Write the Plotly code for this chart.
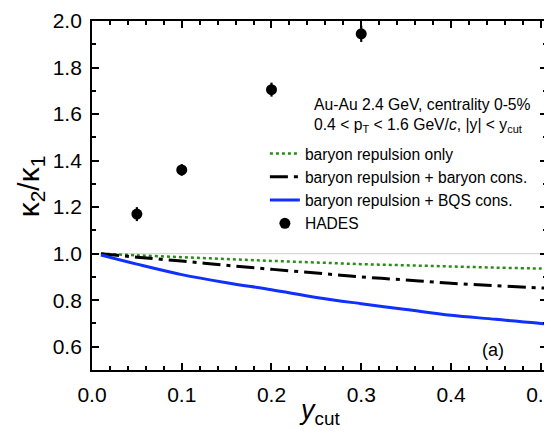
import plotly.graph_objects as go

# Data
ycut = [0.01, 0.05, 0.1, 0.15, 0.2, 0.25, 0.3, 0.35, 0.4, 0.45, 0.5, 0.51]
rep_only = [1.0, 0.993, 0.985, 0.977, 0.969, 0.962, 0.955, 0.950, 0.945, 0.940, 0.936, 0.935]
rep_bcons = [1.0, 0.985, 0.968, 0.950, 0.933, 0.917, 0.900, 0.887, 0.873, 0.862, 0.853, 0.851]
rep_bqs = [0.994, 0.955, 0.910, 0.875, 0.845, 0.812, 0.785, 0.760, 0.735, 0.718, 0.700, 0.698]

hades_x = [0.05, 0.1, 0.2, 0.3]
hades_y = [1.17, 1.36, 1.705, 1.945]
hades_err = [0.03, 0.025, 0.03, 0.035]

x_ticks = [0, 0.1, 0.2, 0.3, 0.4, 0.5]
x_ticklabels = ["0.0", "0.1", "0.2", "0.3", "0.4", "0.5"]
y_ticks = [0.6, 0.8, 1.0, 1.2, 1.4, 1.6, 1.8, 2.0]
y_ticklabels = ["0.6", "0.8", "1.0", "1.2", "1.4", "1.6", "1.8", "2.0"]

FONT = "Liberation Sans"

fig = go.Figure()

# reference line at 1
fig.add_trace(go.Scatter(x=[0, 0.51], y=[1.0, 1.0], mode="lines",
                         line=dict(color="#d8d8d8", width=1.2),
                         showlegend=False, hoverinfo="skip"))

fig.add_trace(go.Scatter(x=ycut, y=rep_only, mode="lines", name="baryon repulsion only",
                         line=dict(color="#2a8a1a", width=2.5, dash="dot", shape="spline")))
fig.add_trace(go.Scatter(x=ycut, y=rep_bcons, mode="lines", name="baryon repulsion + baryon cons.",
                         line=dict(color="black", width=3, dash="18px,6px,4px,6px", shape="spline")))
fig.add_trace(go.Scatter(x=ycut, y=rep_bqs, mode="lines", name="baryon repulsion + BQS cons.",
                         line=dict(color="#1030ff", width=3, shape="spline")))
fig.add_trace(go.Scatter(x=hades_x, y=hades_y, mode="markers", name="HADES",
                         marker=dict(color="black", size=11),
                         error_y=dict(type="data", array=hades_err, color="black",
                                      thickness=2.2, width=0)))

axis_common = dict(showline=True, linecolor="black", linewidth=1.8, mirror="ticks",
                   ticks="inside", tickcolor="black", tickwidth=1.5, ticklen=7,
                   showgrid=False, zeroline=False, automargin=False,
                   ticklabeloverflow="allow",
                   tickfont=dict(family=FONT, size=21, color="black"))

fig.update_xaxes(range=[0, 0.507], tickvals=x_ticks, ticktext=x_ticklabels,
                 minor=dict(dtick=0.02, ticks="inside", ticklen=4, tickcolor="black", tickwidth=1.5),
                 ticklabelstandoff=5,
                 **axis_common)
fig.update_yaxes(range=[0.5, 2.0], tickvals=y_ticks, ticktext=y_ticklabels,
                 minor=dict(dtick=0.1, ticks="inside", ticklen=4, tickcolor="black", tickwidth=1.5),
                 ticklabelstandoff=4,
                 **axis_common)

# axis titles
fig.add_annotation(xref="paper", yref="paper", x=0.5, y=-0.065, xanchor="center", yanchor="top",
                   text="<i>y</i><sub>cut</sub>", showarrow=False,
                   font=dict(family=FONT, size=27, color="black"))
fig.add_annotation(xref="paper", yref="paper", x=-0.135, y=0.525, xanchor="center", yanchor="middle",
                   text="κ<sub>2</sub>/κ<sub>1</sub>", showarrow=False, textangle=-90,
                   font=dict(family=FONT, size=30, color="black"))

fig.add_annotation(xref="paper", yref="paper", x=0.4835, y=0.762, xanchor="left", yanchor="middle",
                   text="Au-Au 2.4 GeV, centrality 0-5%", showarrow=False,
                   font=dict(family=FONT, size=15.7, color="black"))
fig.add_annotation(xref="paper", yref="paper", x=0.4835, y=0.702, xanchor="left", yanchor="middle",
                   text="0.4 < p<sub>T</sub> < 1.6 GeV/<i>c</i>, |y| < y<sub>cut</sub>", showarrow=False,
                   font=dict(family=FONT, size=15.7, color="black"))
fig.add_annotation(xref="paper", yref="paper", x=0.881, y=0.057, xanchor="center", yanchor="middle",
                   text="(a)", showarrow=False,
                   font=dict(family=FONT, size=18, color="black"))

# page body has an 8px margin, so the figure is 8px smaller than the window
fig.update_layout(
    width=544, height=426,
    margin=dict(l=84, r=5, t=13, b=64),
    paper_bgcolor="white", plot_bgcolor="white",
    font=dict(family=FONT, color="black"),
    legend=dict(x=0.38, y=0.668, xanchor="left", yanchor="top",
                bgcolor="rgba(0,0,0,0)", font=dict(family=FONT, size=15.6, color="black"),
                itemwidth=30, tracegroupgap=0),
)

fig.write_html("out.html")
